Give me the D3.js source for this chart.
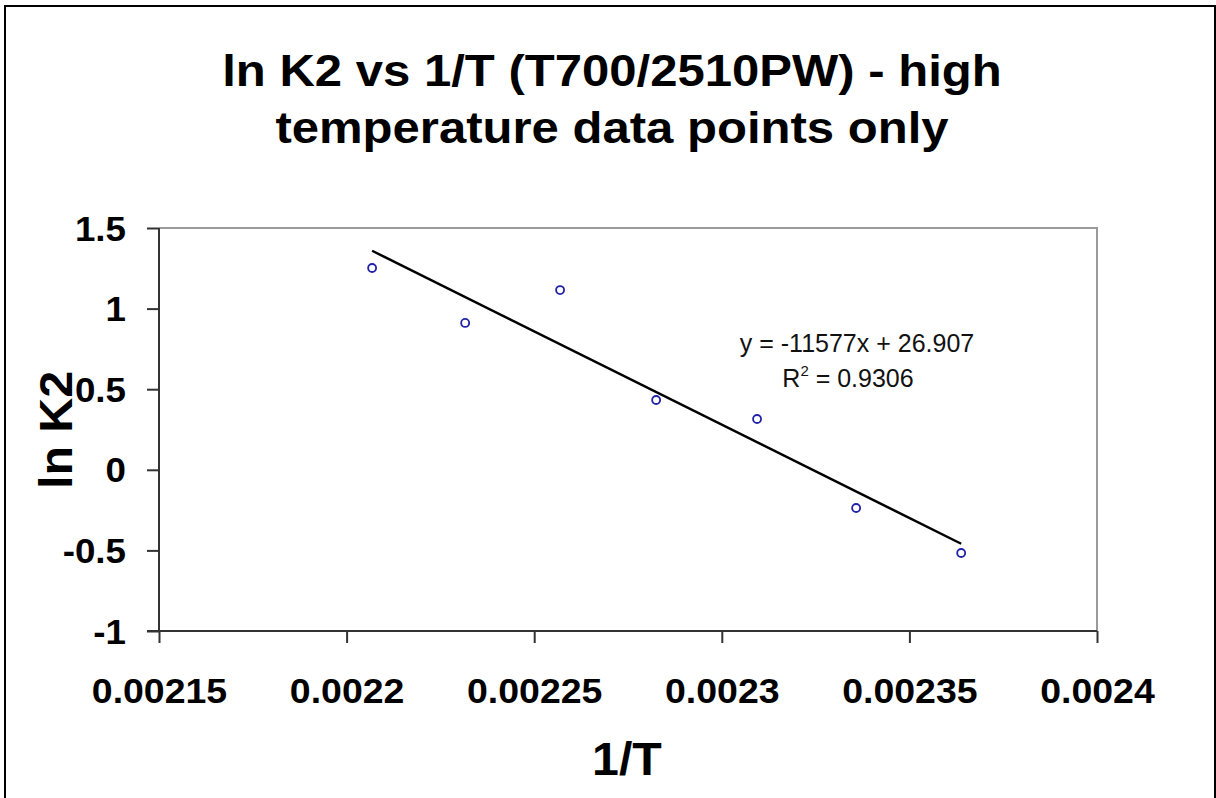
<!DOCTYPE html>
<html><head><meta charset="utf-8">
<script src="https://cdn.jsdelivr.net/npm/d3@7"></script>
<style>body{margin:0;background:#fff}svg{display:block}text{font-family:"Liberation Sans",Arial,sans-serif}</style>
</head><body>
<script>
const titleLines = ["ln K2 vs 1/T (T700/2510PW) - high", "temperature data points only"];
const xTicks = [0.00215, 0.0022, 0.00225, 0.0023, 0.00235, 0.0024];
const yTicks = [-1, -0.5, 0, 0.5, 1, 1.5];
const invT = [0.0022068, 0.0022316, 0.0022569, 0.0022825, 0.0023094, 0.0023358, 0.0023638];
const lnK2 = [1.252, 0.911, 1.115, 0.433, 0.315, -0.237, -0.516];
const slope = -11577, intercept = 26.907;
const eqText = "y = -11577x + 26.907";
const r2Text = "0.9306";

const W = 1216, H = 798;
const svg = d3.select("body").append("svg").attr("width", W).attr("height", H);
svg.append("rect").attr("x", 5).attr("y", 6).attr("width", 1210).attr("height", 800)
  .attr("fill", "#fff").attr("stroke", "#000").attr("stroke-width", 2);

const stretch = (sel, f) => sel.each(function () {
  const w = this.getComputedTextLength();
  d3.select(this).attr("textLength", w * f).attr("lengthAdjust", "spacingAndGlyphs");
});

const L = 159, R = 1097, T = 228, B = 631;
const x = d3.scaleLinear().domain([0.00215, 0.0024]).range([L, R]);
const y = d3.scaleLinear().domain([-1, 1.5]).range([B, T]);

// plot border (top/right gray)
svg.append("path").attr("d", `M${L},${T}H${R}V${B}`).attr("fill", "none")
  .attr("stroke", "#9a9a9a").attr("stroke-width", 2);

// axes
const gx = svg.append("g").attr("transform", `translate(0,${B})`)
  .call(d3.axisBottom(x).tickValues(xTicks).tickSize(12).tickFormat(d => String(+d.toPrecision(6))));
const gy = svg.append("g").attr("transform", `translate(${L},0)`)
  .call(d3.axisLeft(y).tickValues(yTicks).tickSize(12).tickFormat(d => String(d)));
[gx, gy].forEach(g => {
  g.attr("font-size", null).attr("font-family", null);
  g.select(".domain").attr("stroke", "#333").attr("stroke-width", 2);
  g.selectAll(".tick line").attr("stroke", "#333").attr("stroke-width", 2);
  g.selectAll(".tick text").style("font-size", "35px").style("font-weight", "bold").attr("fill", "#000");
});
gx.selectAll(".tick text").attr("y", 72).attr("dy", 0);
gy.selectAll(".tick text").attr("x", -33).attr("dy", 12);
stretch(gx.selectAll(".tick text"), 1.07);
stretch(gy.selectAll(".tick text"), 1.05);
gy.select(".domain").attr("d", `M0,${T}V${B}`);
gx.select(".domain").attr("d", `M${L-12},0H${R}`);

// title
const tt = svg.append("g").selectAll("text").data(titleLines).join("text")
  .attr("x", 612).attr("y", (d, i) => 86 + i * 57)
  .attr("text-anchor", "middle").style("font-size", "45px").style("font-weight", "bold").text(d => d);
stretch(tt, 1.09);

// axis titles
const xt = svg.append("text").attr("x", 627).attr("y", 775).attr("text-anchor", "middle")
  .style("font-size", "46px").style("font-weight", "bold").text("1/T");
stretch(xt, 1.05);
const yt = svg.append("text").attr("transform", "translate(72,430) rotate(-90)").attr("text-anchor", "middle")
  .style("font-size", "46px").style("font-weight", "bold").text("ln K2");
stretch(yt, 1.05);

// trendline
const x0 = d3.min(invT), x1 = d3.max(invT);
svg.append("line").attr("x1", x(x0)).attr("y1", y(slope * x0 + intercept))
  .attr("x2", x(x1)).attr("y2", y(slope * x1 + intercept))
  .attr("stroke", "#000").attr("stroke-width", 2.5);

// points
svg.append("g").selectAll("circle").data(invT).join("circle")
  .attr("cx", d => x(d)).attr("cy", (d, i) => y(lnK2[i])).attr("r", 4)
  .attr("fill", "none").attr("stroke", "#2222a8").attr("stroke-width", 1.8);

// equation
const eq = svg.append("text").attr("x", 857).attr("y", 352).attr("text-anchor", "middle")
  .style("font-size", "25px").attr("fill", "#111").text(eqText);
const r2 = svg.append("text").attr("x", 848).attr("y", 387).attr("text-anchor", "middle")
  .style("font-size", "25px").attr("fill", "#111");
r2.append("tspan").text("R");
r2.append("tspan").attr("dy", -11).style("font-size", "15px").text("2");
r2.append("tspan").attr("dy", 11).text(" = " + r2Text);
</script>
</body></html>
